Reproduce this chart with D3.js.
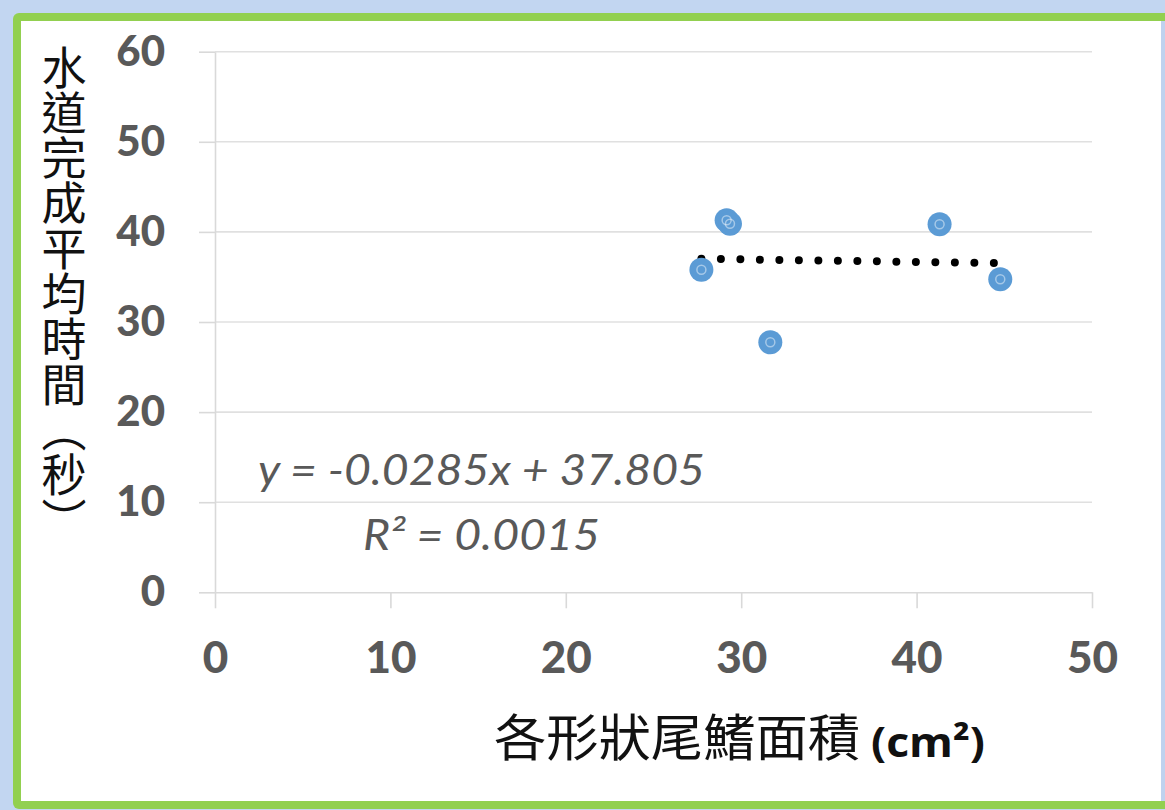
<!DOCTYPE html>
<html>
<head>
<meta charset="utf-8">
<script src="https://cdn.jsdelivr.net/npm/d3@7"></script>
<style>
  body { margin: 0; background: #c2d6f1; }
  svg { display: block; }
</style>
</head>
<body>
<div id="chart"></div>
<script>
// data
var areaValues = [27.73, 29.17, 29.36, 31.66, 41.31, 44.77];
var timeValues = [35.8, 41.3, 40.9, 27.75, 40.84, 34.74];
var xTicks = [0, 10, 20, 30, 40, 50];
var yTicks = [0, 10, 20, 30, 40, 50, 60];
var trendSlope = -0.0285;
var trendIntercept = 37.805;
var equationLabel = "y = -0.0285x + 37.805";
var rSquaredLabel = "R² = 0.0015";
var yTitle = "水道完成平均時間（秒）";
var xTitle = "各形狀尾鰭面積";
var xUnit = "(cm²)";

var svgWidth = 1165;
var svgHeight = 810;

var svg = d3.select("#chart")
  .append("svg")
  .attr("width", svgWidth)
  .attr("height", svgHeight);

// slide frame: blue backdrop, green border, white panel
svg.append("rect")
  .attr("width", svgWidth)
  .attr("height", svgHeight)
  .attr("fill", "#c2d6f1");
svg.append("rect")
  .attr("x", 13).attr("y", 13)
  .attr("width", 1200).attr("height", 796)
  .attr("rx", 6)
  .attr("fill", "#92d050");
svg.append("rect")
  .attr("x", 21).attr("y", 21)
  .attr("width", 1140).attr("height", 780)
  .attr("fill", "#ffffff");
svg.append("rect")
  .attr("x", 1161).attr("y", 21)
  .attr("width", 4).attr("height", 780)
  .attr("fill", "#bfd2ef");

var xScale = d3.scaleLinear().domain([0, 50]).range([215, 1092]);
var yScale = d3.scaleLinear().domain([0, 60]).range([592.3, 51.7]);

// horizontal gridlines
svg.append("g")
  .selectAll("line")
  .data(yTicks.filter(d => d > 0))
  .enter()
  .append("line")
  .attr("x1", xScale(0))
  .attr("x2", xScale(50))
  .attr("y1", d => yScale(d))
  .attr("y2", d => yScale(d))
  .attr("stroke", "#e0e0e0")
  .attr("stroke-width", 1.6);

// y axis
var leftAxis = d3.axisLeft(yScale)
  .tickValues(yTicks)
  .tickSize(16)
  .tickSizeOuter(0)
  .tickPadding(34);

var yAxis = svg.append("g")
  .attr("transform", `translate(${xScale(0)}, 0)`)
  .call(leftAxis);

// x axis
var bottomAxis = d3.axisBottom(xScale)
  .tickValues(xTicks)
  .tickSize(16)
  .tickSizeOuter(0)
  .tickPadding(33);

var xAxis = svg.append("g")
  .attr("transform", `translate(0, ${yScale(0)})`)
  .call(bottomAxis);

[xAxis, yAxis].forEach(function(ax) {
  ax.select(".domain").attr("stroke", "#d9d9d9").attr("stroke-width", 1.6);
  ax.selectAll(".tick line").attr("stroke", "#d9d9d9").attr("stroke-width", 1.6);
  ax.selectAll(".tick text")
    .attr("fill", "#595959")
    .style("font-family", "Lato, 'Open Sans', sans-serif")
    .style("font-weight", "900");
});
yAxis.selectAll(".tick text").style("font-size", "42px");
xAxis.selectAll(".tick text").style("font-size", "44px");

// trendline (dotted)
var trendX = d3.extent(areaValues);
svg.append("line")
  .attr("x1", xScale(trendX[0]))
  .attr("y1", yScale(trendSlope * trendX[0] + trendIntercept))
  .attr("x2", xScale(trendX[1]))
  .attr("y2", yScale(trendSlope * trendX[1] + trendIntercept))
  .attr("stroke", "#000000")
  .attr("stroke-width", 8)
  .attr("stroke-linecap", "round")
  .attr("stroke-dasharray", "0 19.5");

// points
var points = areaValues.map((d, i) => ({x: d, y: timeValues[i]}));

var pointGroup = svg.append("g");
pointGroup.selectAll("circle")
  .data(points)
  .enter()
  .append("circle")
  .attr("cx", d => xScale(d.x))
  .attr("cy", d => yScale(d.y))
  .attr("r", 12)
  .attr("fill", "#5b9bd5");

pointGroup.selectAll(".inner")
  .data(points)
  .enter()
  .append("circle")
  .attr("class", "inner")
  .attr("cx", d => xScale(d.x))
  .attr("cy", d => yScale(d.y))
  .attr("r", 4.5)
  .attr("fill", "none")
  .attr("stroke", "#ffffff")
  .attr("stroke-opacity", 0.45)
  .attr("stroke-width", 1.5);

// trendline label
svg.append("text")
  .attr("x", 258)
  .attr("y", 485)
  .attr("textLength", 447)
  .attr("lengthAdjust", "spacingAndGlyphs")
  .attr("fill", "#595959")
  .style("font-family", "Lato, 'Open Sans', sans-serif")
  .style("font-style", "italic")
  .style("font-size", "42px")
  .text(equationLabel);

svg.append("text")
  .attr("x", 363)
  .attr("y", 550)
  .attr("textLength", 237)
  .attr("lengthAdjust", "spacingAndGlyphs")
  .attr("fill", "#595959")
  .style("font-family", "Lato, 'Open Sans', sans-serif")
  .style("font-style", "italic")
  .style("font-size", "42px")
  .text(rSquaredLabel);

// y axis title, vertical writing
svg.append("text")
  .attr("x", 64)
  .attr("y", 45)
  .attr("fill", "#111111")
  .style("writing-mode", "vertical-rl")
  .style("letter-spacing", "0.3px")
  .style("font-family", "'Noto Sans CJK TC', sans-serif")
  .style("font-size", "45px")
  .text(yTitle);

// x axis title
svg.append("text")
  .attr("x", 494)
  .attr("y", 756)
  .attr("textLength", 366)
  .attr("lengthAdjust", "spacingAndGlyphs")
  .attr("fill", "#111111")
  .style("font-family", "'Noto Sans CJK TC', sans-serif")
  .style("font-size", "50px")
  .text(xTitle);

svg.append("text")
  .attr("x", 871)
  .attr("y", 757)
  .attr("textLength", 114)
  .attr("lengthAdjust", "spacingAndGlyphs")
  .attr("fill", "#111111")
  .style("font-family", "'Open Sans', sans-serif")
  .style("font-weight", "bold")
  .style("font-size", "42px")
  .text(xUnit);
</script>
</body>
</html>
